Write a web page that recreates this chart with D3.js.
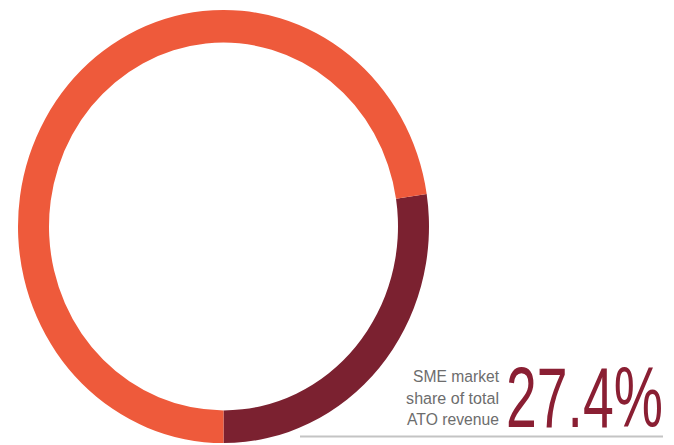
<!DOCTYPE html>
<html>
<head>
<meta charset="utf-8">
<script src="https://cdn.jsdelivr.net/npm/d3@7"></script>
<style>
  html, body { margin: 0; padding: 0; background: #fff; }
  svg { display: block; }
</style>
</head>
<body>
<svg id="chart" width="674" height="445"></svg>
<script>
// data
const segments = ["SME", "Other"];
const shares = [27.4, 72.6];
const colors = ["#7b2130", "#ee5a3b"];
const captionLines = ["SME market", "share of total", "ATO revenue"];
const headline = "27.4%";

const svg = d3.select("#chart");
const fontStack = "'Liberation Sans Narrow', 'Arial Narrow', 'Liberation Sans', sans-serif";

// ring, slightly taller than wide as in the picture
const cx = 223.5, cy = 226.5, outerR = 205.5, thick = 31;
const g = svg.append("g")
    .attr("transform", `translate(${cx},${cy}) scale(1,1.054)`);

const total = d3.sum(shares);
const startA = Math.PI - (shares[0] / total) * 2 * Math.PI;

const pie = d3.pie()
    .sort(null)
    .startAngle(startA)
    .endAngle(startA + 2 * Math.PI);

const arc = d3.arc()
    .innerRadius(outerR - thick)
    .outerRadius(outerR);

g.selectAll("path")
    .data(pie(shares))
    .join("path")
    .attr("d", arc)
    .attr("fill", (d, i) => colors[i]);

// rule under the label
svg.append("line")
    .attr("x1", 300).attr("x2", 663)
    .attr("y1", 436.5).attr("y2", 436.5)
    .attr("stroke", "#c4c4c4")
    .attr("stroke-width", 2);

// squeeze a text horizontally to a target width
function fitWidth(sel, x, y, target) {
    sel.each(function() {
        const w = this.getComputedTextLength();
        const k = Math.min(1, target / w);
        d3.select(this).attr("transform", `translate(${x},${y}) scale(${k},1)`);
    });
}

// caption
const capWidths = [86, 93, 92];
svg.selectAll("text.cap")
    .data(captionLines)
    .join("text")
    .attr("class", "cap")
    .attr("text-anchor", "end")
    .style("font-family", fontStack)
    .style("font-size", "17px")
    .attr("fill", "#6d6d6d")
    .text(d => d)
    .each(function(d, i) {
        fitWidth(d3.select(this), 499, 382 + i * 21.5, capWidths[i]);
    });

// big number
svg.append("text")
    .style("font-family", fontStack)
    .style("font-size", "85px")
    .style("font-weight", 300)
    .attr("fill", "#8a1f33")
    .text(headline)
    .call(fitWidth, 506, 426.5, 157);
</script>
</body>
</html>
